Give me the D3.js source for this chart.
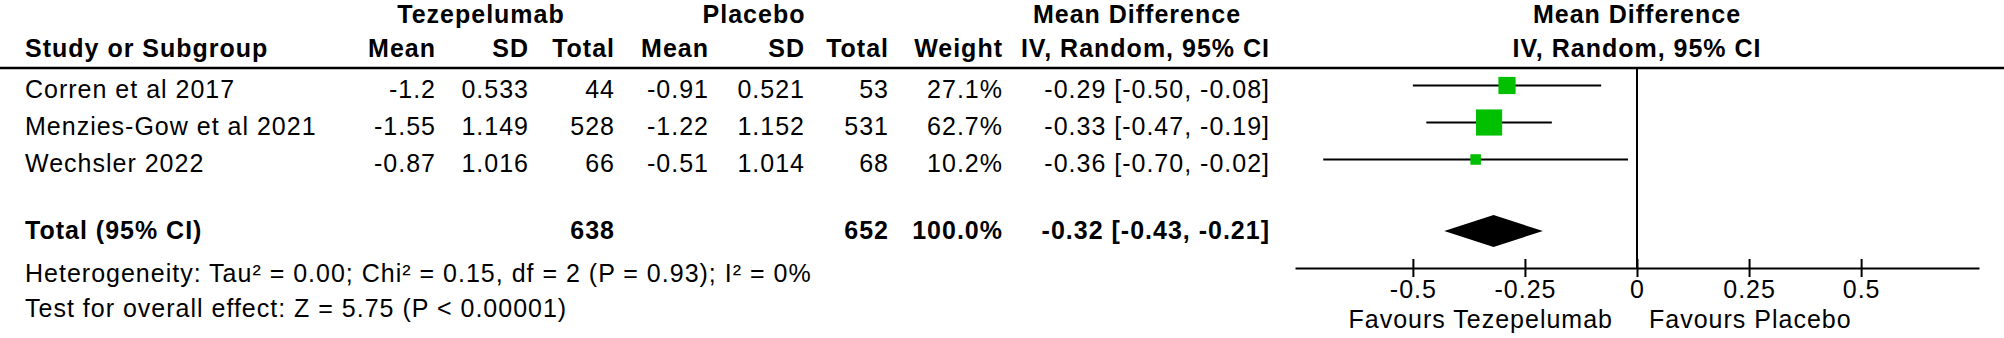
<!DOCTYPE html>
<html>
<head>
<meta charset="utf-8">
<script src="https://cdn.jsdelivr.net/npm/d3@7"></script>
<style>
  html, body { margin: 0; padding: 0; background: #fff; }
  svg { display: block; }
  text { font-family: "Liberation Sans", Arial, sans-serif; font-size: 25px; letter-spacing: 1px; fill: #000; }
  .b { font-weight: bold; }
</style>
</head>
<body>
<svg id="chart" width="2004" height="338"></svg>
<script>
// ---------------- data ----------------
const studies   = ["Corren et al 2017", "Menzies-Gow et al 2021", "Wechsler 2022"];
const tezMean   = [-1.2, -1.55, -0.87];
const tezSD     = [0.533, 1.149, 1.016];
const tezN      = [44, 528, 66];
const plaMean   = [-0.91, -1.22, -0.51];
const plaSD     = [0.521, 1.152, 1.014];
const plaN      = [53, 531, 68];
const weights   = [27.1, 62.7, 10.2];
const md        = [-0.29, -0.33, -0.36];
const ciLow     = [-0.50, -0.47, -0.70];
const ciHigh    = [-0.08, -0.19, -0.02];
const totalTezN = 638;
const totalPlaN = 652;
const totalWeight = 100.0;
const totalMD   = -0.32;
const totalLow  = -0.43;
const totalHigh = -0.21;
const tickValues = [-0.5, -0.25, 0, 0.25, 0.5];
const tickLabels = ["-0.5", "-0.25", "0", "0.25", "0.5"];
const heterogeneity = "Heterogeneity: Tau\u00B2 = 0.00; Chi\u00B2 = 0.15, df = 2 (P = 0.93); I\u00B2 = 0%";
const overallTest = "Test for overall effect: Z = 5.75 (P < 0.00001)";
const favoursLeft = "Favours Tezepelumab";
const favoursRight = "Favours Placebo";

// ---------------- layout ----------------
const svg = d3.select("#chart");
const rowY = d3.scaleLinear().domain([0, 1]).range([98, 135]);   // text baselines
const totalY = 239;
const axisY = 268;
const headerLineY = 68;
const x = d3.scaleLinear().domain([-0.763, 0.763]).range([1295, 1979]);
const boxSize = d3.scaleSqrt().domain([0, 100]).range([0, 33]);

const cols = {
  tezMean: 436, tezSD: 529, tezN: 615,
  plaMean: 709, plaSD: 805, plaN: 889,
  weight: 1003, ci: 1270
};

function txt(xp, yp, s, anchor, bold) {
  return svg.append("text")
    .attr("x", xp).attr("y", yp)
    .attr("text-anchor", anchor || "start")
    .attr("class", bold ? "b" : null)
    .text(s);
}

const f2 = v => v.toFixed(2);
const f1 = v => v.toFixed(1);

// header row 1
txt(481, 23, "Tezepelumab", "middle", true);
txt(754, 23, "Placebo", "middle", true);
txt(1137, 23, "Mean Difference", "middle", true);
txt(x(0), 23, "Mean Difference", "middle", true);

// header row 2
txt(25, 57, "Study or Subgroup", "start", true);
txt(cols.tezMean, 57, "Mean", "end", true);
txt(cols.tezSD, 57, "SD", "end", true);
txt(cols.tezN, 57, "Total", "end", true);
txt(cols.plaMean, 57, "Mean", "end", true);
txt(cols.plaSD, 57, "SD", "end", true);
txt(cols.plaN, 57, "Total", "end", true);
txt(cols.weight, 57, "Weight", "end", true);
txt(cols.ci, 57, "IV, Random, 95% CI", "end", true);
txt(x(0), 57, "IV, Random, 95% CI", "middle", true);

// header line
svg.append("line")
  .attr("x1", 0).attr("x2", 2004)
  .attr("y1", headerLineY).attr("y2", headerLineY)
  .attr("stroke", "#000").attr("stroke-width", 2.5);

// study rows
studies.forEach((s, i) => {
  const y = rowY(i);
  txt(25, y, s);
  txt(cols.tezMean, y, String(tezMean[i]), "end");
  txt(cols.tezSD, y, String(tezSD[i]), "end");
  txt(cols.tezN, y, String(tezN[i]), "end");
  txt(cols.plaMean, y, String(plaMean[i]), "end");
  txt(cols.plaSD, y, String(plaSD[i]), "end");
  txt(cols.plaN, y, String(plaN[i]), "end");
  txt(cols.weight, y, f1(weights[i]) + "%", "end");
  txt(cols.ci, y, f2(md[i]) + " [" + f2(ciLow[i]) + ", " + f2(ciHigh[i]) + "]", "end");
});

// total row
txt(25, totalY, "Total (95% CI)", "start", true);
txt(cols.tezN, totalY, String(totalTezN), "end", true);
txt(cols.plaN, totalY, String(totalPlaN), "end", true);
txt(cols.weight, totalY, f1(totalWeight) + "%", "end", true);
txt(cols.ci, totalY, f2(totalMD) + " [" + f2(totalLow) + ", " + f2(totalHigh) + "]", "end", true);

txt(25, 282, heterogeneity);
txt(25, 317, overallTest);

// zero line
svg.append("line")
  .attr("x1", x(0)).attr("x2", x(0))
  .attr("y1", headerLineY).attr("y2", axisY)
  .attr("stroke", "#000").attr("stroke-width", 2);

// CI lines and boxes
const g = svg.append("g");
studies.forEach((s, i) => {
  const cy = rowY(i) - 12.5;
  g.append("line")
    .attr("x1", x(ciLow[i])).attr("x2", x(ciHigh[i]))
    .attr("y1", cy).attr("y2", cy)
    .attr("stroke", "#000").attr("stroke-width", 2);
  const sz = boxSize(weights[i]);
  g.append("rect")
    .attr("x", x(md[i]) - sz / 2).attr("y", cy - sz / 2)
    .attr("width", sz).attr("height", sz)
    .attr("fill", "#00c000");
});

// diamond
const dy = 231, dh = 16;
svg.append("path")
  .attr("d", d3.line()([
    [x(totalLow), dy], [x(totalMD), dy - dh], [x(totalHigh), dy], [x(totalMD), dy + dh]
  ]) + "Z")
  .attr("fill", "#000");

// axis
const axis = d3.axisBottom(x)
  .tickValues(tickValues)
  .tickFormat((d, i) => tickLabels[i])
  .tickSizeOuter(0)
  .tickSizeInner(9);
const ag = svg.append("g").attr("transform", `translate(0,${axisY})`).call(axis);
ag.select(".domain").attr("stroke", "#000").attr("stroke-width", 2);
ag.selectAll(".tick line").attr("y1", -9).attr("y2", 9).attr("stroke", "#000").attr("stroke-width", 2);
ag.selectAll(".tick text")
  .attr("y", 30).attr("dy", null)
  .attr("fill", "#000")
  .style("font-family", "\"Liberation Sans\", Arial, sans-serif")
  .style("font-size", "25px");
ag.attr("font-size", null).attr("font-family", null);

// favours labels
txt(x(0) - 24, 328, favoursLeft, "end");
txt(x(0) + 12, 328, favoursRight, "start");
</script>
</body>
</html>
